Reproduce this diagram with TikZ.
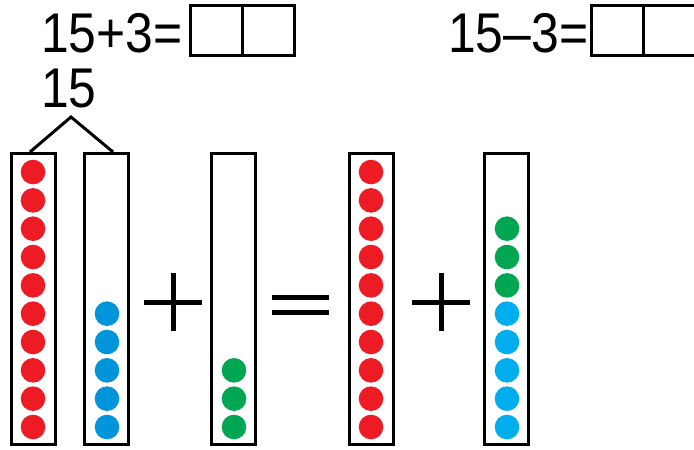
\documentclass[tikz,border=0pt]{standalone}
\usepackage{fontspec}
\newfontfamily\numfont[FakeStretch=0.89]{Liberation Sans}
\usetikzlibrary{calc}
\definecolor{beadred}{HTML}{ED1C24}
\definecolor{beadblue}{HTML}{0095DA}
\definecolor{beadcyan}{HTML}{00AEEF}
\definecolor{beadgreen}{HTML}{00A651}

\begin{document}
\begin{tikzpicture}[x=1pt, y=-1pt, line cap=butt,
  column/.style={draw, line width=3pt, minimum width=44pt, minimum height=291pt, inner sep=0pt},
  bead/.style={circle, fill=#1, minimum size=24.6pt, inner sep=0pt},
  answer/.style={draw, line width=3pt, minimum width=52pt, minimum height=50pt, inner sep=0pt},
  sum/.style={font=\numfont\fontsize{56}{60}\selectfont, inner sep=0pt, anchor=base west},
  sign/.style={line width=5pt}]

\useasboundingbox (0,0) rectangle (694,450);

%% Les deux exercices.

\node[sum] (addtext) at (41,52) {15+3=};
\node[answer] (addbox1) at (216.5,30.5) {};
\node[answer] (addbox2) at (268.5,30.5) {};

\node[sum] (subtext) at (448,52) {15–3=};
\node[answer] (subbox1) at (617.5,30.5) {};
\node[answer] (subbox2) at (669.5,30.5) {};

%% Les colonnes.

\node[column] (col1) at (33.5,299) {};
\node[column] (col2) at (106.5,299) {};
\node[column] (col3) at (233.5,299) {};
\node[column] (col4) at (371.5,299) {};
\node[column] (col5) at (506.5,299) {};

%% Décomposition de 15.

\node[sum] (fifteen) at (41,107) {15};
\coordinate (apex) at (71,117);
\draw[line width=3pt] ([xshift=-3.5pt]col1.north) -- (apex) -- ([xshift=6.5pt]col2.north);

%% Les perles.

\foreach \k in {0,...,9} {
  \node[bead=beadred] (red1-\k) at (33,{427-28.33*\k}) {};
  \node[bead=beadred] (red4-\k) at (371,{427-28.33*\k}) {};
}
\foreach \k in {0,...,4} {
  \node[bead=beadblue] (blue2-\k) at (107,{427-28.33*\k}) {};
  \node[bead=beadcyan] (blue5-\k) at (507,{427-28.33*\k}) {};
}
\foreach \k in {0,...,2} {
  \node[bead=beadgreen] (green3-\k) at (234,{427-28.33*\k}) {};
  \node[bead=beadgreen] (green5-\k) at (507,{427-28.33*(\k+5)}) {};
}

%% Les signes.

\draw[sign] (144,302) -- (202,302) (173,273) -- (173,331);
\draw[sign] (272,297) -- (329,297) (272,312) -- (329,312);
\draw[sign] (412,302) -- (470,302) (441,273) -- (441,331);

\end{tikzpicture}
\end{document}
